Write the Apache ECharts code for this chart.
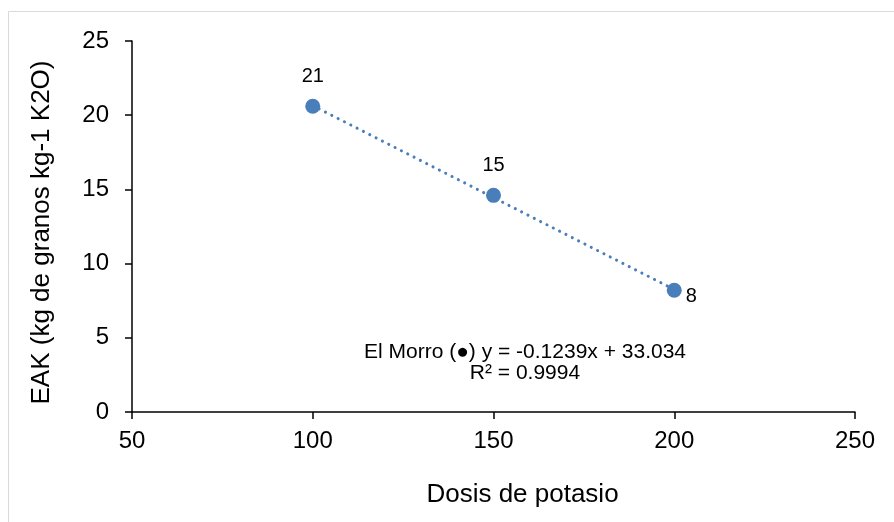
<!DOCTYPE html>
<html>
<head>
<meta charset="utf-8">
<script src="https://cdn.jsdelivr.net/npm/echarts@6/dist/echarts.min.js"></script>
<style>html,body{margin:0;padding:0;background:#fff;}#c{width:894px;height:522px;}</style>
</head>
<body>
<div id="c"></div>
<script>
var dosis = [100, 150, 200];
var eak = [20.6, 14.6, 8.2];
var pointLabels = ['21', '15', '8'];
var trendX = [100, 200];
var trendY = [20.644, 8.254];
var xTicks = [50, 100, 150, 200, 250];
var yTicks = [0, 5, 10, 15, 20, 25];
var eqLine1 = 'El Morro (\u25CF) y = -0.1239x + 33.034';
var eqLine2 = 'R\u00B2 = 0.9994';

var FONT = '"Liberation Sans", Arial, sans-serif';
var BLUE = '#4a7ebb';
var chart = echarts.init(document.getElementById('c'));

var pts = dosis.map(function (x, i) {
  var d = { value: [x, eak[i]], label: { formatter: pointLabels[i] } };
  if (i === dosis.length - 1) {
    d.label.position = 'right';
    d.label.distance = 4;
    d.label.offset = [0, 6];
  }
  return d;
});

chart.setOption({
  animation: false,
  backgroundColor: '#fff',
  grid: { left: 132, top: 41, width: 723, height: 371 },
  xAxis: {
    type: 'value', min: xTicks[0], max: xTicks[xTicks.length - 1], interval: 50,
    name: 'Dosis de potasio', nameLocation: 'middle', nameGap: 70,
    nameTextStyle: { fontFamily: FONT, fontSize: 26, color: '#000', padding: [0, 0, 0, 58] },
    axisLine: { show: true, lineStyle: { color: '#000', width: 1.5 } },
    axisTick: { show: true, inside: false, length: 7, lineStyle: { color: '#000', width: 1.5 } },
    axisLabel: { fontFamily: FONT, fontSize: 24, color: '#000', margin: 17 },
    splitLine: { show: false }
  },
  yAxis: {
    type: 'value', min: yTicks[0], max: yTicks[yTicks.length - 1], interval: 5,
    name: 'EAK (kg de granos kg-1 K2O)', nameLocation: 'middle', nameGap: 77,
    nameTextStyle: { fontFamily: FONT, fontSize: 26, color: '#000', padding: [0, 12, 0, 0] },
    axisLine: { show: true, lineStyle: { color: '#000', width: 1.5 } },
    axisTick: { show: true, inside: false, length: 7, lineStyle: { color: '#000', width: 1.5 } },
    axisLabel: { fontFamily: FONT, fontSize: 24, color: '#000', margin: 23 },
    splitLine: { show: false }
  },
  series: [
    {
      type: 'line',
      data: trendX.map(function (x, i) { return [x, trendY[i]]; }),
      showSymbol: false, symbol: 'none', silent: true, z: 1,
      lineStyle: { color: BLUE, width: 3, type: [0.1, 7], cap: 'round', opacity: 1 }
    },
    {
      type: 'scatter',
      data: pts,
      symbol: 'circle', symbolSize: 15, z: 3,
      itemStyle: { color: BLUE, opacity: 1 },
      label: { show: true, position: 'top', distance: 12, fontFamily: FONT, fontSize: 20, color: '#000' }
    }
  ],
  graphic: [
    { type: 'rect', shape: { x: 8.5, y: 11.5, width: 900, height: 600 }, style: { fill: 'none', stroke: '#d9d9d9', lineWidth: 1 }, z: -1 },
    { type: 'text', x: 525, y: 352, style: { text: eqLine1, fontFamily: FONT, fontSize: 21, fill: '#000', textAlign: 'center', textVerticalAlign: 'middle' } },
    { type: 'text', x: 525, y: 373, style: { text: eqLine2, fontFamily: FONT, fontSize: 21, fill: '#000', textAlign: 'center', textVerticalAlign: 'middle' } }
  ]
});
</script>
</body>
</html>
